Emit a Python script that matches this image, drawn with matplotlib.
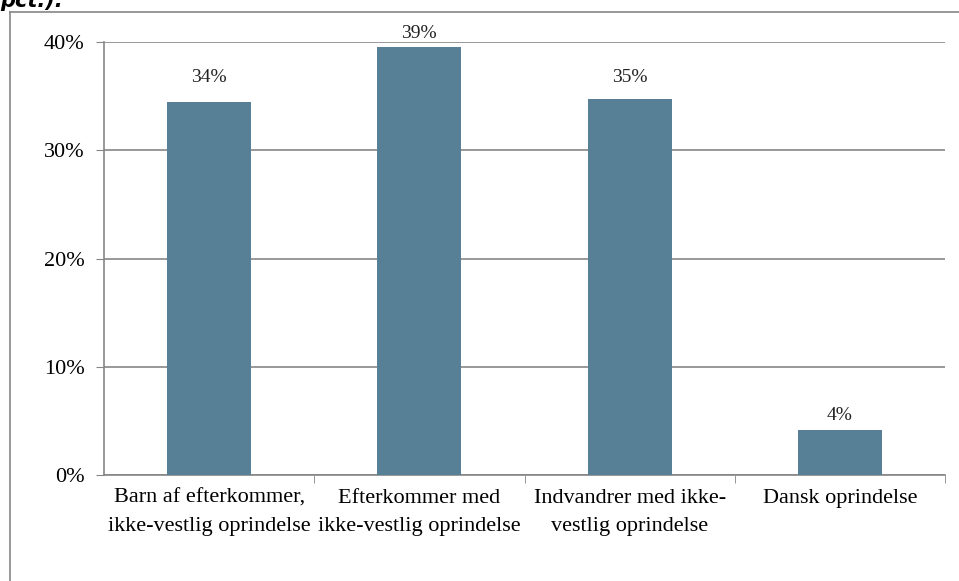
import matplotlib.pyplot as plt
from matplotlib.lines import Line2D

categories = ["Barn af efterkommer,\nikke-vestlig oprindelse",
              "Efterkommer med\nikke-vestlig oprindelse",
              "Indvandrer med ikke-\nvestlig oprindelse",
              "Dansk oprindelse"]
values = [34.5, 39.5, 34.7, 4.2]
labels = ["34%", "39%", "35%", "4%"]
label_y = [36.7, 40.8, 36.7, 5.5]  # where Excel put the data labels

plt.rcParams['font.family'] = ['Liberation Serif', 'DejaVu Serif']

fig = plt.figure(figsize=(9.59, 5.81), dpi=100)
ax = fig.add_axes([104/959, 1-475/581, 841/959, 433/581])

x = range(len(categories))
ax.bar(x, values, width=0.4, color='#577f96', zorder=3)
for xi, ly, lab in zip(x, label_y, labels):
    ax.text(xi, ly, lab, ha='center', va='center', fontsize=14, color='#222222', clip_on=False)

ax.set_xlim(-0.5, 3.5)
ax.set_ylim(0, 40)
ax.set_yticks([0, 10, 20, 30, 40])
ax.set_yticklabels(["0%", "10%", "20%", "30%", "40%"], fontsize=16)
ax.yaxis.grid(True, color='#868686', linewidth=1.2, zorder=0)

ax.set_xticks(list(x))
ax.set_xticklabels(categories, fontsize=16, linespacing=1.65)
ax.tick_params(axis='x', length=0, pad=10)
ax.set_xticks([0.5, 1.5, 2.5, 3.5], minor=True)
ax.tick_params(axis='x', which='minor', length=6, color='#868686')
ax.tick_params(axis='y', length=6, color='#868686', pad=8)

for s in ['top', 'right']:
    ax.spines[s].set_visible(False)
for s in ['left', 'bottom']:
    ax.spines[s].set_color('#868686')
    ax.spines[s].set_linewidth(1.2)

# chart frame
fig.add_artist(Line2D([10/959, 10/959], [0, 1-12/581], transform=fig.transFigure, color='#868686', lw=1.2))
fig.add_artist(Line2D([10/959, 1], [1-12/581, 1-12/581], transform=fig.transFigure, color='#868686', lw=1.2))

# clipped title remnant
fig.text(0.0, 1-11/581, "pct.).", fontsize=15, fontweight='bold', fontstyle='italic',
         family=['DejaVu Sans'], va='bottom', ha='left')

fig.savefig("out.png", dpi=100)
